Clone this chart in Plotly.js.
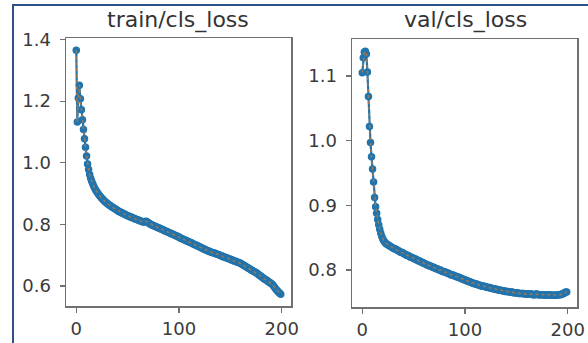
<!DOCTYPE html>
<html>
<head>
<meta charset="utf-8">
<script src="https://cdn.plot.ly/plotly-3.0.1.min.js"></script>
<style>
html,body{margin:0;padding:0;background:#fff;}
#wrap{position:relative;width:588px;height:343px;overflow:hidden;}
#chart{position:absolute;left:0;top:0;width:588px;height:343px;}
#frameL{position:absolute;left:12px;top:4px;width:2px;height:339px;background:#2b4f86;}
#frameT{position:absolute;left:12px;top:4px;width:576px;height:2px;background:#2b4f86;}
</style>
</head>
<body>
<div id="wrap">
<div id="chart"></div>
<div id="frameL"></div>
<div id="frameT"></div>
</div>
<script>
// ---- data ----
const titles = ["train/cls_loss", "val/cls_loss"];

const trainLoss = [
1.365,1.132,1.210,1.252,1.208,1.172,1.140,1.108,1.078,1.050,
1.022,0.996,0.978,0.962,0.950,0.940,0.932,0.924,0.917,0.911,
0.906,0.901,0.896,0.892,0.888,0.884,0.881,0.877,0.874,0.871,
0.868,0.866,0.863,0.861,0.858,0.856,0.854,0.852,0.850,0.848,
0.845,0.843,0.841,0.840,0.838,0.836,0.835,0.833,0.831,0.830,
0.828,0.827,0.825,0.824,0.823,0.821,0.820,0.818,0.817,0.816,
0.814,0.813,0.812,0.810,0.809,0.808,0.808,0.809,0.810,0.808,
0.806,0.803,0.801,0.799,0.798,0.796,0.795,0.793,0.792,0.790,
0.789,0.787,0.786,0.784,0.783,0.781,0.780,0.778,0.777,0.775,
0.774,0.772,0.771,0.769,0.768,0.766,0.765,0.763,0.762,0.760,
0.759,0.756,0.755,0.753,0.752,0.750,0.749,0.747,0.746,0.744,
0.743,0.741,0.740,0.738,0.736,0.735,0.733,0.732,0.730,0.729,
0.727,0.725,0.724,0.722,0.720,0.719,0.717,0.716,0.714,0.713,
0.712,0.710,0.709,0.708,0.707,0.706,0.705,0.703,0.702,0.701,
0.699,0.698,0.697,0.695,0.694,0.693,0.692,0.690,0.689,0.688,
0.686,0.685,0.684,0.682,0.681,0.680,0.679,0.677,0.676,0.675,
0.673,0.671,0.669,0.667,0.665,0.663,0.661,0.659,0.657,0.655,
0.653,0.651,0.649,0.647,0.645,0.643,0.641,0.638,0.636,0.633,
0.631,0.628,0.626,0.623,0.621,0.619,0.617,0.614,0.612,0.610,
0.607,0.605,0.600,0.596,0.591,0.587,0.583,0.580,0.576,0.573
];

const valLoss = [
1.105,1.128,1.137,1.138,1.134,1.106,1.068,1.022,0.997,0.975,
0.956,0.936,0.912,0.898,0.888,0.878,0.870,0.863,0.857,0.852,
0.848,0.845,0.843,0.841,0.840,0.839,0.838,0.837,0.836,0.835,
0.834,0.833,0.833,0.832,0.831,0.830,0.829,0.828,0.827,0.827,
0.826,0.825,0.824,0.823,0.823,0.822,0.821,0.820,0.820,0.819,
0.818,0.817,0.817,0.816,0.815,0.814,0.814,0.813,0.812,0.811,
0.811,0.810,0.809,0.808,0.808,0.807,0.806,0.806,0.805,0.804,
0.804,0.803,0.802,0.802,0.801,0.800,0.800,0.799,0.798,0.798,
0.797,0.797,0.796,0.795,0.795,0.794,0.793,0.793,0.792,0.792,
0.791,0.790,0.790,0.789,0.789,0.788,0.787,0.787,0.786,0.785,
0.785,0.784,0.783,0.783,0.782,0.782,0.781,0.780,0.780,0.779,
0.779,0.778,0.778,0.777,0.777,0.776,0.776,0.775,0.775,0.775,
0.774,0.774,0.773,0.773,0.773,0.772,0.772,0.771,0.771,0.771,
0.770,0.770,0.770,0.769,0.769,0.769,0.768,0.768,0.768,0.767,
0.767,0.767,0.767,0.766,0.766,0.766,0.766,0.765,0.765,0.765,
0.765,0.765,0.764,0.764,0.764,0.764,0.764,0.764,0.763,0.763,
0.763,0.763,0.763,0.763,0.763,0.763,0.762,0.762,0.762,0.763,
0.763,0.762,0.762,0.762,0.762,0.762,0.762,0.762,0.761,0.762,
0.762,0.762,0.762,0.761,0.761,0.761,0.761,0.761,0.761,0.761,
0.762,0.762,0.762,0.762,0.763,0.763,0.764,0.765,0.766,0.766
];

const xTickVals = [0, 100, 200];
const xTickText = ["0", "100", "200"];
const trainYTickVals = [0.6, 0.8, 1.0, 1.2, 1.4];
const trainYTickText = ["0.6", "0.8", "1.0", "1.2", "1.4"];
const valYTickVals = [0.8, 0.9, 1.0, 1.1];
const valYTickText = ["0.8", "0.9", "1.0", "1.1"];

// ---- build ----
const epochs = trainLoss.map((_, i) => i);
const epochsV = valLoss.map((_, i) => i);

const blue = "#2274ad";
const orange = "#ff7f0e";

function mainTrace(x, y, xa, ya) {
  return {
    x: x, y: y, xaxis: xa, yaxis: ya, type: "scatter", mode: "lines+markers",
    line: {color: blue, width: 2.2},
    marker: {color: blue, size: 7.5, line: {width: 0}},
    hoverinfo: "none", showlegend: false
  };
}
function smoothTrace(x, y, xa, ya) {
  return {
    x: x, y: y, xaxis: xa, yaxis: ya, type: "scatter", mode: "lines",
    line: {color: orange, width: 1.6, dash: "dot"}, opacity: 0.5,
    hoverinfo: "none", showlegend: false
  };
}

const data = [
  mainTrace(epochs, trainLoss, "x", "y"),
  smoothTrace(epochs, trainLoss, "x", "y"),
  mainTrace(epochsV, valLoss, "x2", "y2"),
  smoothTrace(epochsV, valLoss, "x2", "y2")
];

const W = 588, H = 343;
const tickFont = {family: "DejaVu Sans", size: 18, color: "#3a3a3a"};
const axisLine = "#707070";

function xax(domain, anchor) {
  return {
    domain: domain, anchor: anchor, range: [-10, 209],
    showline: true, mirror: true, linecolor: axisLine, linewidth: 1.5,
    ticks: "outside", ticklen: 5, tickwidth: 1.3, tickcolor: axisLine,
    tickvals: xTickVals, ticktext: xTickText, ticklabelstandoff: 1,
    showgrid: false, zeroline: false, tickfont: tickFont, fixedrange: true
  };
}
function yax(domain, anchor, range, tv, tt) {
  return {
    domain: domain, anchor: anchor, range: range,
    showline: true, mirror: true, linecolor: axisLine, linewidth: 1.5,
    ticks: "outside", ticklen: 5, tickwidth: 1.3, tickcolor: axisLine,
    tickvals: tv, ticktext: tt, ticklabelstandoff: 5,
    showgrid: false, zeroline: false, tickfont: tickFont, fixedrange: true
  };
}

const layout = {
  width: W, height: H,
  margin: {l: 0, r: 0, t: 0, b: 0, pad: 0},
  paper_bgcolor: "#ffffff", plot_bgcolor: "#ffffff",
  xaxis: xax([66 / W, 291 / W], "y"),
  yaxis: yax([1 - 306 / H, 1 - 38 / H], "x", [0.535, 1.405], trainYTickVals, trainYTickText),
  xaxis2: xax([352 / W, 577 / W], "y2"),
  yaxis2: yax([1 - 307 / H, 1 - 39 / H], "x2", [0.743, 1.157], valYTickVals, valYTickText),
  annotations: [
    {text: titles[0], xref: "paper", yref: "paper", x: 178 / W, y: 1 - 20 / H,
     xanchor: "center", yanchor: "middle", showarrow: false,
     font: {family: "DejaVu Sans", size: 22, color: "#333333"}},
    {text: titles[1], xref: "paper", yref: "paper", x: 465 / W, y: 1 - 20 / H,
     xanchor: "center", yanchor: "middle", showarrow: false,
     font: {family: "DejaVu Sans", size: 22, color: "#333333"}}
  ]
};

Plotly.newPlot("chart", data, layout, {displayModeBar: false, staticPlot: true});
</script>
</body>
</html>
